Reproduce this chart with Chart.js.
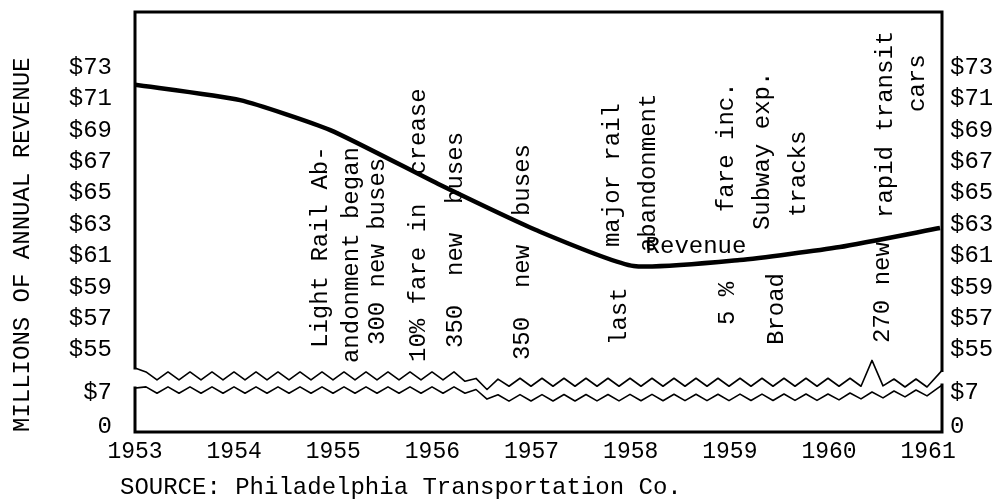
<!DOCTYPE html>
<html>
<head>
<meta charset="utf-8">
<script src="https://cdn.jsdelivr.net/npm/chart.js@4.4.1/dist/chart.umd.min.js"></script>
<style>
  html, body { margin: 0; padding: 0; background: #ffffff; }
  #wrap { width: 998px; height: 500px; }
</style>
</head>
<body>
<div id="wrap"><canvas id="c" width="998" height="500"></canvas></div>
<script>
// ---- data ----
const years   = [1953.00, 1954.06, 1954.97, 1956.08, 1957.09, 1958.03, 1959.10, 1960.11, 1961.12];
const revenue = [71.90,   70.92,   69.01,   65.51,   62.52,   60.35,   60.73,   61.56,   62.77];

const xTickYears  = [1953, 1954, 1955, 1956, 1957, 1958, 1959, 1960, 1961];
const yTickValues = [50.1, 52.3, 55, 57, 59, 61, 63, 65, 67, 69, 71, 73];
const yTickLabels = ['0', '$7', '$55', '$57', '$59', '$61', '$63', '$65', '$67', '$69', '$71', '$73'];

const annoText  = ['Light Rail Ab-', 'andonment began', '300 new buses', '10% fare in  crease',
                   '350  new  buses', '350  new  buses', 'last', 'major rail', 'abandonment',
                   '5 %', 'fare inc.', 'Broad', 'Subway exp.', 'tracks', '270 new',
                   'rapid transit', 'cars'];
const annoYear  = [1954.87, 1955.19, 1955.45, 1955.86, 1956.23, 1956.91, 1957.89, 1957.82, 1958.18,
                   1958.98, 1958.97, 1959.47, 1959.33, 1959.69, 1960.54, 1960.57, 1960.89];
const annoValue = [55.13, 54.17, 55.32, 54.24, 55.13, 54.36, 55.32, 61.56, 61.24,
                   56.59, 63.79, 55.32, 62.64, 63.47, 55.45, 63.41, 70.16];

const seriesLabel = 'Revenue';
const seriesLabelYear = 1958.15;
const seriesLabelValue = 61.56;

const axisTitle = 'MILLIONS OF ANNUAL REVENUE';
const sourceText = 'SOURCE: Philadelphia Transportation Co.';

// axis break (decoration)
const breakLeft  = [53.85, 52.58];
const breakRight = [53.70, 52.77];
const upperWave = [[1953.00, 53.85], [1953.10, 53.35], [1956.30, 53.35], [1956.52, 52.70], [1956.70, 52.95],
                   [1960.35, 52.95], [1960.45, 54.30], [1960.55, 52.90], [1961.05, 52.90], [1961.14, 53.70]];
const lowerWave = [[1953.00, 52.58], [1953.10, 52.45], [1956.35, 52.45], [1956.62, 51.95], [1960.00, 52.00],
                   [1961.05, 52.30], [1961.14, 52.77]];

const FONT = "'Liberation Mono', 'DejaVu Sans Mono', monospace";
const INK = '#000000';

function baseAt(pts, yr) {
  for (let i = 0; i < pts.length - 1; i++) {
    if (yr >= pts[i][0] && yr <= pts[i + 1][0]) {
      const t = (yr - pts[i][0]) / (pts[i + 1][0] - pts[i][0]);
      return pts[i][1] + t * (pts[i + 1][1] - pts[i][1]);
    }
  }
  return pts[pts.length - 1][1];
}

const decoPlugin = {
  id: 'deco',
  afterDatasetsDraw(chart) {
    const ctx = chart.ctx;
    const a = chart.chartArea;
    const xs = chart.scales.x, ys = chart.scales.y;
    ctx.save();
    ctx.strokeStyle = INK;
    ctx.lineCap = 'square';
    // frame
    ctx.lineWidth = 3;
    ctx.beginPath();
    ctx.moveTo(a.left, ys.getPixelForValue(breakLeft[0]));
    ctx.lineTo(a.left, a.top);
    ctx.lineTo(a.right, a.top);
    ctx.lineTo(a.right, ys.getPixelForValue(breakRight[0]));
    ctx.moveTo(a.left, ys.getPixelForValue(breakLeft[1]));
    ctx.lineTo(a.left, a.bottom);
    ctx.lineTo(a.right, a.bottom);
    ctx.lineTo(a.right, ys.getPixelForValue(breakRight[1]));
    ctx.stroke();
    // break waves
    ctx.lineWidth = 1.6;
    ctx.lineJoin = 'round';
    [[upperWave, 4], [lowerWave, 3.2]].forEach(([pts, amp]) => {
      ctx.beginPath();
      const x0 = xs.getPixelForValue(pts[0][0]);
      const x1 = xs.getPixelForValue(pts[pts.length - 1][0]);
      ctx.moveTo(x0, ys.getPixelForValue(pts[0][1]));
      let k = 0;
      for (let x = x0 + 11; x < x1 - 6; x += 11) {
        const yr = xs.getValueForPixel(x);
        const off = (k % 2 === 0) ? -amp : amp;
        ctx.lineTo(x, ys.getPixelForValue(baseAt(pts, yr)) + off);
        k++;
      }
      ctx.lineTo(x1, ys.getPixelForValue(pts[pts.length - 1][1]));
      ctx.stroke();
    });
    // annotations
    ctx.fillStyle = INK;
    ctx.font = '24px ' + FONT;
    ctx.textBaseline = 'middle';
    ctx.textAlign = 'left';
    for (let i = 0; i < annoText.length; i++) {
      ctx.save();
      ctx.translate(xs.getPixelForValue(annoYear[i]), ys.getPixelForValue(annoValue[i]));
      ctx.rotate(-Math.PI / 2);
      ctx.fillText(annoText[i], 0, 0);
      ctx.restore();
    }
    ctx.fillText(seriesLabel, xs.getPixelForValue(seriesLabelYear), ys.getPixelForValue(seriesLabelValue));
    // source
    ctx.fillText(sourceText, 120, 488);
    ctx.restore();
  }
};

function noPad(scale) {
  scale.paddingTop = 0;
  scale.paddingBottom = 0;
}

const yScaleCommon = {
  type: 'linear',
  min: 49.78,
  max: 76.53,
  grid: { display: false, drawTicks: false },
  border: { display: false },
  afterBuildTicks(scale) { scale.ticks = yTickValues.map(v => ({ value: v })); },
  ticks: {
    color: INK,
    font: { family: FONT, size: 24 },
    callback: (v, i) => yTickLabels[i]
  }
};

new Chart(document.getElementById('c'), {
  type: 'line',
  data: {
    datasets: [{
      label: seriesLabel,
      data: years.map((y, i) => ({ x: y, y: revenue[i] })),
      borderColor: INK,
      borderWidth: 4.5,
      pointRadius: 0,
      tension: 0.18,
      fill: false,
      yAxisID: 'y'
    }]
  },
  options: {
    responsive: false,
    animation: false,
    devicePixelRatio: 1,
    layout: { padding: { top: 12, left: 0, right: 0, bottom: 0 } },
    plugins: { legend: { display: false }, tooltip: { enabled: false } },
    scales: {
      x: {
        type: 'linear',
        min: 1953,
        max: 1961.14,
        grid: { display: false, drawTicks: false },
        border: { display: false },
        afterBuildTicks(scale) { scale.ticks = xTickYears.map(v => ({ value: v })); },
        afterFit(scale) { scale.height = 68; scale.paddingLeft = 0; scale.paddingRight = 0; },
        ticks: {
          color: INK,
          padding: 6,
          maxRotation: 0,
          font: { family: FONT, size: 23 },
          callback: v => String(v)
        }
      },
      y: Object.assign({}, yScaleCommon, {
        position: 'left',
        afterFit(scale) { scale.width = 135; noPad(scale); },
        ticks: Object.assign({}, yScaleCommon.ticks, { padding: 23 }),
        title: {
          display: true,
          text: axisTitle,
          align: 'start',
          color: INK,
          font: { family: FONT, size: 24 },
          padding: { top: 8, bottom: 0 }
        }
      }),
      y2: Object.assign({}, yScaleCommon, {
        position: 'right',
        afterFit(scale) { scale.width = 56; noPad(scale); },
        ticks: Object.assign({}, yScaleCommon.ticks, { padding: 8 })
      })
    }
  },
  plugins: [decoPlugin]
});
</script>
</body>
</html>
